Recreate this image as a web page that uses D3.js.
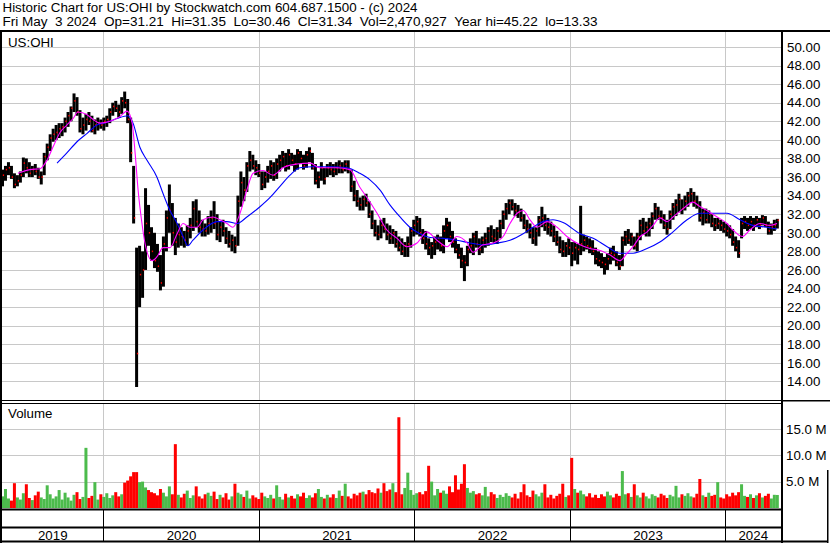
<!DOCTYPE html>
<html><head><meta charset="utf-8">
<script src="https://cdn.jsdelivr.net/npm/d3@7"></script>
<style>
html,body{margin:0;padding:0;background:#fff;}
svg{display:block;font-family:"Liberation Sans",Arial,sans-serif;}
</style></head><body>
<svg id="c" width="830" height="543"></svg>
<script>
// ---------------- DATA (weekly) ----------------
const titleLine1 = "Historic Chart for US:OHI by Stockwatch.com 604.687.1500 - (c) 2024";
const titleLine2 = "Fri May  3 2024  Op=31.21  Hi=31.35  Lo=30.46  Cl=31.34  Vol=2,470,927  Year hi=45.22  lo=13.33";
const symbolLabel = "US:OHI";
const volumeLabel = "Volume";
const firstWeek = "2019-05-10";
const yearLabels = ["2019","2020","2021","2022","2023","2024"];
const yearStarts = ["2020-01-01","2021-01-01","2022-01-01","2023-01-01","2024-01-01"];
const priceTicks = [14,16,18,20,22,24,26,28,30,32,34,36,38,40,42,44,46,48,50];
const volumeTicks = [5,10,15];

const weekHigh = [
36.8,37.2,37.6,37.2,36.4,36.2,36.6,38.1,38.0,37.6,
37.2,37.4,37.0,36.6,38.6,39.6,40.6,41.2,41.6,41.8,
41.8,42.4,43.0,43.6,45.0,44.6,43.2,42.4,42.8,43.0,
42.6,42.2,42.4,42.2,42.4,42.6,43.4,44.0,44.2,43.8,
44.6,45.2,44.4,42.4,37.2,28.4,28.6,28.0,34.8,33.0,
30.6,30.0,28.8,27.6,29.6,32.4,35.2,33.2,31.6,31.0,
30.6,30.2,30.8,31.6,33.4,33.6,32.4,31.4,31.0,31.8,
32.4,33.4,32.0,31.2,31.4,30.6,30.2,29.8,29.6,34.0,
36.6,36.0,37.6,38.8,38.4,37.8,37.4,36.6,36.6,37.2,
37.8,37.6,38.0,38.4,38.8,38.6,39.0,38.6,38.4,39.0,
38.8,38.4,38.8,39.2,38.6,37.4,36.6,37.6,37.0,37.4,
37.6,37.4,37.6,37.8,37.6,37.8,37.8,36.8,35.6,34.6,
33.8,34.0,34.2,33.4,32.4,31.4,30.8,31.4,31.6,31.0,
30.8,30.4,30.2,29.6,29.4,29.0,29.6,30.6,31.4,31.8,
31.6,30.4,30.2,29.4,29.0,29.6,29.8,29.6,30.8,31.6,
31.2,30.2,29.4,28.8,28.4,27.6,28.6,29.4,30.0,30.2,
29.4,29.6,30.0,30.6,30.8,30.4,30.6,31.4,32.4,33.2,
33.6,33.6,33.2,33.0,32.6,32.0,31.4,31.0,30.6,30.6,
31.8,32.8,32.0,31.6,31.2,30.8,30.2,29.6,29.2,29.0,
29.4,29.0,29.0,28.8,32.9,29.8,29.6,29.4,29.2,28.4,
28.0,27.8,27.4,27.8,28.4,28.6,28.0,27.6,29.6,30.2,
30.4,30.0,29.6,30.0,31.4,31.6,31.2,31.6,32.2,33.2,
32.8,32.4,32.0,31.4,32.4,33.2,33.6,34.2,33.6,34.0,
34.4,34.8,34.4,34.0,33.4,32.6,32.6,32.4,32.0,31.6,
31.6,31.4,31.2,31.0,30.8,30.4,29.6,29.2,31.6,31.8,
31.6,31.8,31.6,31.8,31.6,31.9,31.8,31.2,31.0,31.4,
31.5];

const weekLow = [
35.0,35.6,36.2,35.8,34.8,35.0,35.4,36.0,36.4,36.0,
36.0,36.2,35.8,35.2,36.2,37.8,38.8,39.8,40.0,40.2,
40.4,40.8,41.4,42.0,43.0,42.6,40.8,40.6,41.0,41.6,
40.8,40.6,41.0,41.2,41.0,41.4,41.8,42.6,43.0,42.4,
42.8,43.4,41.8,37.6,31.0,13.4,22.0,23.0,26.0,28.6,
27.0,26.2,25.8,23.8,24.2,28.0,30.0,28.6,27.6,28.4,
28.6,28.4,28.6,29.4,30.2,30.6,30.0,29.6,29.6,29.8,
30.0,30.4,29.2,29.0,29.6,28.8,28.4,28.0,27.8,28.6,
32.8,33.4,34.4,36.6,36.8,36.2,36.0,34.6,34.8,35.4,
35.8,35.6,35.8,36.6,37.0,36.6,36.8,37.2,36.6,36.8,
37.4,36.8,37.0,37.6,36.8,35.2,34.8,35.6,35.2,36.0,
36.2,36.0,36.2,36.4,36.4,36.6,36.4,34.4,33.4,32.8,
32.4,32.4,32.8,31.6,30.4,29.6,29.2,29.4,30.0,29.2,
28.8,28.8,28.4,28.0,27.6,27.4,27.4,28.4,29.6,29.8,
29.6,28.8,28.2,27.6,27.2,27.6,28.2,28.0,27.8,29.4,
29.0,28.4,27.8,27.2,26.2,24.8,26.4,27.8,27.6,28.4,
27.6,27.8,28.4,28.6,29.0,28.8,28.8,29.4,30.4,31.4,
32.0,32.4,31.8,31.6,31.2,30.4,30.0,29.4,28.8,28.6,
29.6,30.6,30.2,29.8,29.6,29.0,28.6,27.8,27.4,27.4,
27.6,26.4,27.0,26.6,27.6,28.0,28.2,27.8,27.6,26.6,
26.4,26.2,25.5,26.0,26.6,27.0,26.4,26.0,26.4,28.6,
28.8,28.6,28.2,28.0,29.2,29.8,29.6,29.6,30.4,31.4,
31.4,31.0,30.4,29.8,30.4,31.4,31.8,32.2,32.0,32.4,
32.8,33.2,32.8,32.6,31.2,30.8,31.0,31.0,30.6,30.2,
30.4,30.2,30.0,29.6,29.4,28.6,28.0,27.3,29.4,30.4,
30.2,30.4,30.2,30.6,30.4,30.8,30.6,29.8,29.8,30.2,
30.46];

const weekClose = [
36.2,36.8,37.0,36.0,35.2,35.6,36.2,37.5,37.0,36.4,
36.8,36.6,36.0,36.0,38.2,39.2,40.2,40.6,40.8,41.2,
41.4,42.0,42.6,43.4,44.2,43.0,41.2,41.6,42.2,42.0,
41.0,41.6,41.8,41.6,42.0,42.2,43.0,43.6,43.4,43.0,
44.2,44.0,42.2,38.6,31.6,17.0,25.5,26.0,31.0,30.0,
28.0,27.0,26.4,24.6,28.8,31.6,32.4,30.0,29.0,29.8,
29.6,29.2,30.2,30.8,32.6,31.2,30.6,30.4,30.2,31.0,
31.6,31.0,29.8,30.6,30.2,29.4,28.8,29.2,28.6,33.4,
35.4,34.6,37.2,37.8,37.2,37.0,36.4,35.2,36.0,36.6,
37.2,36.2,37.4,37.8,38.2,37.2,38.4,37.8,37.4,38.6,
38.0,37.2,38.4,38.8,37.0,35.6,36.0,37.0,35.8,37.0,
36.8,36.6,37.0,37.2,36.8,37.4,36.8,35.0,34.0,33.4,
33.0,33.6,33.2,32.0,31.0,30.0,29.8,30.8,30.4,29.8,
29.4,30.0,28.8,28.4,28.0,28.6,28.8,30.2,30.8,31.2,
30.0,29.4,28.8,28.4,28.6,29.0,29.4,28.6,30.2,30.8,
29.6,29.0,28.2,27.6,27.0,26.8,28.2,28.6,29.6,28.8,
28.2,29.2,29.4,30.2,29.6,29.4,30.2,31.0,32.0,32.6,
33.2,32.8,32.4,32.2,31.6,30.8,30.4,30.0,29.4,30.2,
31.4,31.6,30.8,30.6,30.2,29.6,29.0,28.2,28.0,28.6,
28.4,27.8,28.4,28.2,28.8,29.2,28.6,28.4,28.0,27.2,
27.0,26.8,26.6,27.2,27.8,27.6,26.8,26.4,29.2,29.6,
29.2,29.6,28.6,29.6,30.8,30.2,30.6,31.0,31.8,32.6,
31.8,31.6,30.8,30.4,32.0,32.8,33.0,33.6,32.6,33.4,
34.0,34.2,33.4,33.0,31.6,32.2,31.4,32.0,31.0,30.8,
31.0,30.8,30.4,30.2,29.8,29.0,28.4,27.8,31.0,31.2,
30.8,31.2,30.8,31.4,30.8,31.6,30.8,30.2,30.6,30.8,
31.34];

// volume in millions of shares
const weekVolume = [
2.2,3.6,1.8,1.4,4.7,2.0,1.6,2.8,4.5,1.9,
1.5,2.4,3.1,2.0,1.7,4.3,2.6,1.8,2.2,3.4,
1.6,2.9,2.0,1.4,2.5,3.0,1.7,2.1,11.4,1.9,
2.3,4.9,1.6,2.6,2.1,2.8,1.9,2.4,3.0,2.2,
2.6,4.8,5.2,6.0,6.8,6.8,4.9,5.0,3.9,3.4,
3.0,2.8,2.4,3.6,2.9,2.2,4.1,2.6,12.1,2.5,
2.0,2.7,3.3,1.9,2.4,4.1,2.2,1.8,2.6,2.9,
2.3,3.1,1.7,2.5,2.0,2.8,1.6,2.2,4.6,2.9,
2.6,2.1,3.3,1.8,2.4,2.0,1.7,2.9,2.2,1.9,
2.5,1.8,4.3,2.1,1.6,2.7,2.0,2.3,1.8,2.6,
2.2,2.9,1.9,2.4,2.0,2.8,3.6,2.1,1.8,2.5,
2.0,2.6,1.9,3.3,2.3,4.6,2.2,1.8,2.7,2.4,
2.9,3.1,2.6,3.4,3.0,2.8,3.7,2.9,4.7,3.2,
3.5,4.7,3.0,17.2,2.6,3.8,6.7,3.4,2.5,2.8,
3.0,2.6,3.2,8.0,5.0,2.4,3.6,2.9,3.3,2.7,
4.1,3.0,6.2,3.5,4.6,8.3,3.8,2.9,3.2,2.6,
2.8,2.4,4.0,2.2,3.0,2.6,1.9,2.5,2.1,2.8,
2.3,2.0,2.7,1.8,3.0,4.5,2.4,2.1,3.3,2.6,
2.2,2.9,4.5,2.0,2.5,1.8,2.3,2.7,4.6,2.1,
2.4,9.5,3.6,2.9,3.3,2.6,2.2,2.8,2.0,2.5,
1.9,2.6,2.2,3.1,2.4,2.0,2.7,2.3,7.0,2.6,
2.8,2.1,4.5,2.4,2.0,2.9,2.2,1.8,2.6,2.3,
2.0,2.7,2.4,1.9,2.5,2.2,4.2,2.0,2.6,2.3,
2.8,2.2,2.0,2.7,5.5,2.4,2.1,2.9,2.3,2.5,
4.9,2.0,1.8,2.6,2.2,2.9,2.4,3.0,4.5,2.3,
2.1,2.6,1.9,2.4,2.8,2.0,2.3,2.7,1.8,2.5,
2.47];

// moving-average lines (position in weeks, value)
const fastMaWeek = [5.2,9.2,12.6,14.9,16.9,19.3,21.6,23.7,25.3,28.4,30.4,32.7,36.1,39.4,41.8,43.5,44.5,45.5,46.8,47.8,50.2,51.8,53.9,56.2,58.6,60.6,62.9,65.3,67.3,70.6,73,75.3,77.3,79.7,82,84.1,87.4,90.8,94.1,98.8,103.2,106.5,112.2,116.6,119.9,122.3,125.7,129,132.4,135.7,139.1,142.4,145.8,149.2,152.5,155.9,157.9,161.2,164.6,168,170.3,172.7,174.7,177,179.4,182.7,186.1,189.4,193.8,197.1,200.5,203.9,207.2,209.6,211.6,214,216.3,218.3,220.6,223,225,228.4,231.7,234.1,236.4,239.8,243.1,245.1,248.2,250.8,254.2,257.5,259.9];
const fastMaValue = [36.4,36.8,36.9,37.8,39.2,40.8,41.6,42.3,43.0,42.7,42.2,41.8,42.0,42.5,43.1,41.8,38.6,34.6,31.0,28.9,27.0,27.4,28.4,28.4,29.9,31.0,30.6,30.6,31.4,31.7,31.4,31.0,30.6,32.1,34.6,36.4,36.7,36.2,37.0,37.4,37.5,37.0,37.0,36.8,34.9,33.8,32.1,30.3,29.4,28.5,28.9,30.1,29.2,28.5,29.6,28.9,27.9,28.7,28.9,29.6,31.0,32.1,32.4,31.4,30.6,31.2,30.6,29.6,28.7,28.3,28.1,27.6,27.0,27.8,28.5,29.6,30.1,30.8,31.6,31.2,31.7,32.6,33.3,32.8,32.4,31.7,31.0,30.3,29.6,30.3,31.0,30.8,31.0];
const slowMaWeek = [18.3,21.6,25,28.4,31.7,35.1,38.4,42.1,43.8,46.1,48.5,51.8,53.9,56.2,58.6,60.6,62.2,63.9,67.3,72,75.3,78.7,82,86.4,89.8,93.1,96.5,99.8,104.2,109.9,115.6,119.9,123.3,126.7,130,133.4,136.7,140.1,143.5,147.8,152.5,156.9,161.2,166,170.3,174.7,178,181.4,184.7,188.1,193.8,198.2,202.9,207.2,211.6,216.3,220.6,225,229.7,234.1,238.4,243.1,247.5,251.8,256.5,259.9];
const slowMaValue = [37.5,38.6,39.8,40.7,41.6,41.9,42.3,42.6,41.8,39.2,37.8,36.0,34.2,32.4,31.0,29.6,28.6,29.2,30.3,31.2,31.2,31.0,31.7,32.8,33.8,35.0,36.2,37.0,37.1,37.1,37.0,36.4,35.7,34.6,33.0,31.7,30.6,29.9,29.5,29.4,29.2,28.9,28.7,28.9,29.2,29.9,30.6,31.2,31.4,31.1,29.9,29.4,28.5,27.8,27.8,28.3,29.0,30.1,31.4,32.1,32.1,32.1,31.4,30.8,30.6,30.4];

// ---------------- DRAWING ----------------
const W = 830, H = 543;
const PL = 2, PR = 781;            // plot left / right
const P_TOP = 32, P_BOT = 400;     // price panel
const V_TOP = 404, V_BOT = 508;    // volume panel
const GRID = "#c8c8c8";
const UP = "#4cbb4c", DOWN = "#ff0000";
const nb = s => s.replace(/ /g, "\u00a0");

const parse = d3.timeParse("%Y-%m-%d");
const t0 = parse(firstWeek);
const weekDate = w => new Date(t0.getTime() + w * 7 * 864e5);

const svg = d3.select("#c");
svg.append("rect").attr("width", W).attr("height", H).attr("fill", "#fff");

const x = d3.scaleTime().domain([parse("2019-05-10"), parse("2024-05-06")]).range([2.5, 778.6]);
const yP = d3.scaleLinear().domain([12, 51.72]).range([P_BOT, 31]);
const yV = d3.scaleLinear().domain([0, 19.9]).range([V_BOT, 403]);

const yearX = yearStarts.map(s => Math.round(x(parse(s))) + 0.5);

// header text
svg.append("text").attr("x", 2.5).attr("y", 12).attr("font-size", 12.5).attr("fill", "#000")
  .attr("textLength", 415).attr("lengthAdjust", "spacingAndGlyphs").text(nb(titleLine1));
svg.append("text").attr("x", 2.5).attr("y", 26.3).attr("font-size", 12.5).attr("fill", "#000")
  .attr("textLength", 595).attr("lengthAdjust", "spacingAndGlyphs").text(nb(titleLine2));

// grid: price
const g = svg.append("g");
g.selectAll(".hp").data(priceTicks).join("line")
  .attr("x1", PL).attr("x2", PR).attr("y1", d => Math.round(yP(d)) + 0.5).attr("y2", d => Math.round(yP(d)) + 0.5)
  .attr("stroke", GRID);
g.selectAll(".vp").data(yearX).join("line")
  .attr("x1", d => d).attr("x2", d => d).attr("y1", P_TOP).attr("y2", P_BOT)
  .attr("stroke", GRID);
// grid: volume
g.selectAll(".hv").data(volumeTicks).join("line")
  .attr("x1", PL).attr("x2", PR).attr("y1", d => Math.round(yV(d)) + 0.5).attr("y2", d => Math.round(yV(d)) + 0.5)
  .attr("stroke", GRID);
g.selectAll(".vv").data(yearX).join("line")
  .attr("x1", d => d).attr("x2", d => d).attr("y1", V_TOP).attr("y2", V_BOT)
  .attr("stroke", GRID);

// symbol / volume labels
svg.append("text").attr("x", 8).attr("y", 46.5).attr("font-size", 13.3).attr("fill", "#000").text(symbolLabel);
svg.append("text").attr("x", 8).attr("y", 418).attr("font-size", 13.3).attr("fill", "#000").text(volumeLabel);

// volume bars
const idx = d3.range(weekHigh.length);
svg.append("g").selectAll("rect").data(idx).join("rect")
  .attr("x", i => x(weekDate(i)) - 1.5)
  .attr("width", 3)
  .attr("y", i => yV(weekVolume[i]))
  .attr("height", i => V_BOT - yV(weekVolume[i]))
  .attr("fill", i => (i === 0 || weekClose[i] >= weekClose[i - 1]) ? UP : DOWN);

// price bars
svg.append("g").selectAll("rect").data(idx).join("rect")
  .attr("x", i => x(weekDate(i)) - 1.5)
  .attr("width", 3)
  .attr("y", i => yP(weekHigh[i]))
  .attr("height", i => Math.max(1, yP(weekLow[i]) - yP(weekHigh[i])))
  .attr("fill", "#000");
svg.append("g").selectAll("rect").data(idx).join("rect")
  .attr("x", i => x(weekDate(i)) + 0.3)
  .attr("width", 1.3)
  .attr("y", i => yP(weekClose[i]) - 0.8)
  .attr("height", 1.6)
  .attr("fill", "#ff0000");

// moving averages
const maLine = d3.line().x(d => x(weekDate(d[0]))).y(d => yP(d[1])).curve(d3.curveMonotoneX);
svg.append("path").datum(slowMaWeek.map((w, k) => [w, slowMaValue[k]]))
  .attr("d", maLine).attr("fill", "none").attr("stroke", "#0000ff").attr("stroke-width", 1.1);
svg.append("path").datum(fastMaWeek.map((w, k) => [w, fastMaValue[k]]))
  .attr("d", maLine).attr("fill", "none").attr("stroke", "#ff00ff").attr("stroke-width", 1.1);

// axes (right)
const axP = d3.axisRight(yP).tickValues(priceTicks).tickSize(0).tickPadding(6).tickFormat(d3.format(".2f"));
const gp = svg.append("g").attr("transform", `translate(${PR},0)`).call(axP);
const axV = d3.axisRight(yV).tickValues(volumeTicks).tickSize(0).tickPadding(5).tickFormat(d => d3.format(".1f")(d) + " M");
const gv = svg.append("g").attr("transform", `translate(${PR},0)`).call(axV);
[gp, gv].forEach(a => {
  a.select(".domain").remove();
  a.selectAll("text").attr("font-size", 13.3).attr("font-family", "'Liberation Sans',Arial,sans-serif").attr("fill", "#000");
});

// frame lines
const blk = "#000";
svg.append("rect").attr("x", 0).attr("y", 30).attr("width", W).attr("height", 2).attr("fill", blk);
svg.append("rect").attr("x", 0).attr("y", 31).attr("width", 2).attr("height", H - 31).attr("fill", blk);
svg.append("rect").attr("x", PR).attr("y", 31).attr("width", 2).attr("height", H - 31).attr("fill", blk);
svg.append("rect").attr("x", 0).attr("y", 400).attr("width", PR).attr("height", 1).attr("fill", blk);
svg.append("rect").attr("x", 0).attr("y", 403).attr("width", PR).attr("height", 1).attr("fill", blk);
svg.append("rect").attr("x", PR).attr("y", 400).attr("width", W - PR).attr("height", 1.5).attr("fill", blk);
svg.append("rect").attr("x", 0).attr("y", 508.5).attr("width", PR).attr("height", 2).attr("fill", blk);
svg.append("rect").attr("x", 0).attr("y", 526.5).attr("width", PR).attr("height", 2).attr("fill", blk);
svg.append("rect").attr("x", 0).attr("y", 540.5).attr("width", W - 2).attr("height", 2).attr("fill", blk);
svg.append("rect").attr("x", 827).attr("y", 470).attr("width", 1.5).attr("height", H - 470).attr("fill", blk);

// bottom date rows separators
svg.append("g").selectAll("line").data(yearX).join("line")
  .attr("x1", d => d).attr("x2", d => d).attr("y1", 510).attr("y2", 541).attr("stroke", blk);

// year labels centred in their segments
const bounds = [PL].concat(yearX, [PR]);
svg.append("g").selectAll("text").data(yearLabels).join("text")
  .attr("x", (d, k) => (bounds[k] + bounds[k + 1]) / 2)
  .attr("y", 539.5).attr("text-anchor", "middle").attr("font-size", 13.3).attr("fill", "#000")
  .text(d => d);
</script>
</body></html>
